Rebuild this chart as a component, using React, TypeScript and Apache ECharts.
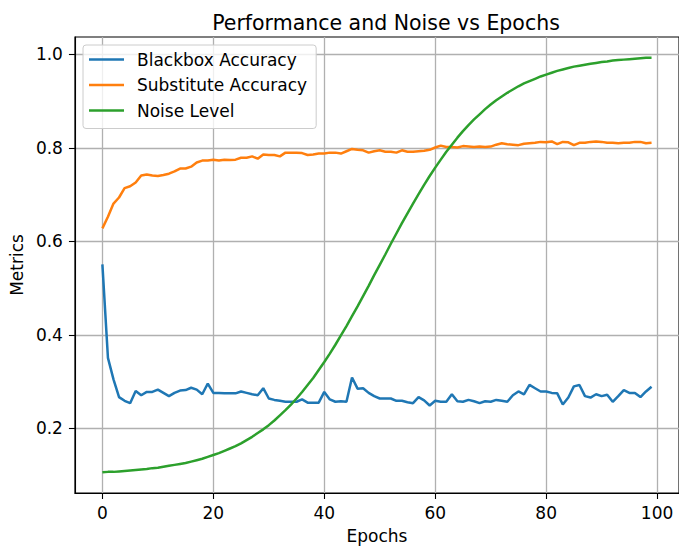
import React, { useEffect, useRef } from "react";
import * as echarts from "echarts";

const epochs: number[] = Array.from({ length: 100 }, (_, i) => i);

const blackboxAccuracy = [
  0.551, 0.351, 0.305, 0.267, 0.259, 0.254, 0.28, 0.271, 0.278, 0.278,
  0.283, 0.276, 0.269, 0.276, 0.281, 0.282, 0.287, 0.283, 0.273, 0.296,
  0.276, 0.276, 0.275, 0.275, 0.275, 0.279, 0.276, 0.273, 0.271, 0.286,
  0.264, 0.261, 0.259, 0.257, 0.257, 0.257, 0.262, 0.255, 0.255, 0.255,
  0.278, 0.262, 0.257, 0.258, 0.257, 0.309, 0.285, 0.286, 0.276, 0.269,
  0.264, 0.264, 0.264, 0.259, 0.259, 0.256, 0.254, 0.267, 0.26, 0.249,
  0.259, 0.257, 0.257, 0.273, 0.258, 0.257, 0.261, 0.258, 0.254, 0.258,
  0.257, 0.261, 0.259, 0.257, 0.271, 0.279, 0.273, 0.293, 0.286, 0.279,
  0.279, 0.276, 0.275, 0.251, 0.266, 0.29, 0.293, 0.269, 0.266, 0.273,
  0.269, 0.272, 0.257, 0.269, 0.282, 0.276, 0.276, 0.267, 0.279, 0.289,
];

const substituteAccuracy = [
  0.628, 0.653, 0.681, 0.694, 0.714, 0.718, 0.726, 0.741, 0.743, 0.741,
  0.74, 0.742, 0.745, 0.75, 0.756, 0.756, 0.76, 0.769, 0.773, 0.773,
  0.775, 0.773, 0.775, 0.774, 0.775, 0.779, 0.779, 0.782, 0.777, 0.786,
  0.785, 0.785, 0.782, 0.79, 0.79, 0.79, 0.789, 0.785, 0.786, 0.788,
  0.788, 0.79, 0.79, 0.788, 0.793, 0.798, 0.796, 0.795, 0.79, 0.793,
  0.795, 0.792, 0.792, 0.79, 0.795, 0.792, 0.792, 0.793, 0.794, 0.796,
  0.801, 0.805, 0.802, 0.802, 0.801, 0.804, 0.803, 0.802, 0.803, 0.802,
  0.803, 0.807, 0.81, 0.808, 0.807, 0.806, 0.809, 0.81, 0.811, 0.813,
  0.812, 0.814, 0.808, 0.813, 0.812, 0.806, 0.811, 0.811, 0.813, 0.814,
  0.813, 0.811, 0.811, 0.81, 0.811, 0.811, 0.813, 0.813, 0.81, 0.811,
];

const noiseLevel = [
  0.106, 0.107, 0.107, 0.108, 0.109, 0.11, 0.111, 0.112, 0.113, 0.115,
  0.116, 0.118, 0.12, 0.122, 0.124, 0.126, 0.129, 0.132, 0.135, 0.139,
  0.143, 0.147, 0.152, 0.157, 0.162, 0.168, 0.175, 0.182, 0.19, 0.198,
  0.207, 0.217, 0.228, 0.239, 0.251, 0.264, 0.278, 0.293, 0.308, 0.325,
  0.342, 0.36, 0.379, 0.399, 0.419, 0.44, 0.461, 0.483, 0.505, 0.528,
  0.55, 0.572, 0.595, 0.617, 0.639, 0.66, 0.681, 0.701, 0.721, 0.74,
  0.758, 0.775, 0.792, 0.807, 0.822, 0.836, 0.849, 0.861, 0.872, 0.883,
  0.893, 0.902, 0.91, 0.918, 0.925, 0.932, 0.938, 0.943, 0.948, 0.953,
  0.957, 0.961, 0.965, 0.968, 0.971, 0.974, 0.976, 0.978, 0.98, 0.982,
  0.984, 0.985, 0.987, 0.988, 0.989, 0.99, 0.991, 0.992, 0.993, 0.993,
];

const xTicks = [0, 20, 40, 60, 80, 100];
const yTicks = [0.2, 0.4, 0.6, 0.8, 1.0];

const seriesNames = ["Blackbox Accuracy", "Substitute Accuracy", "Noise Level"];
const seriesColors = ["#1f77b4", "#ff7f0e", "#2ca02c"];
const seriesValues = [blackboxAccuracy, substituteAccuracy, noiseLevel];

const FONT = "DejaVu Sans";
const FS = 17;

export default function App() {
  const ref = useRef<HTMLDivElement>(null);

  useEffect(() => {
    if (!ref.current) return;
    const chart = echarts.init(ref.current, null, { renderer: "svg" });
    chart.setOption({
      animation: false,
      backgroundColor: "#ffffff",
      title: {
        text: "Performance and Noise vs Epochs",
        left: 381,
        top: 7,
        textAlign: "center",
        textStyle: { fontFamily: FONT, fontSize: 20.5, fontWeight: "normal", color: "#000" },
      },
      legend: {
        orient: "vertical",
        left: 83,
        top: 45,
        data: seriesNames,
        icon: "rect",
        itemWidth: 35,
        itemHeight: 2.5,
        itemGap: 5.5,
        padding: [4.5, 9, 8, 6],
        backgroundColor: "rgba(255,255,255,0.8)",
        borderColor: "#cccccc",
        borderWidth: 1,
        borderRadius: 3,
        textStyle: {
          fontFamily: FONT,
          fontSize: FS,
          color: "#000",
          lineHeight: 20,
          padding: [0, 0, 0, 8],
        },
      },
      grid: {
        left: 74.6,
        top: 37,
        width: 613.1,
        height: 456,
        show: true,
        borderColor: "#000",
        borderWidth: 1.1,
        backgroundColor: "transparent",
        containLabel: false,
      },
      xAxis: {
        type: "value",
        min: -4.95,
        max: 103.95,
        name: "Epochs",
        nameLocation: "middle",
        nameGap: 34,
        nameTextStyle: { fontFamily: FONT, fontSize: FS, color: "#000" },
        axisLine: { show: true, onZero: false, lineStyle: { color: "#000", width: 1.1 } },
        axisTick: { show: true, length: 6, customValues: xTicks, lineStyle: { color: "#000", width: 1.1 } },
        axisLabel: {
          customValues: xTicks,
          margin: 11,
          fontFamily: FONT,
          fontSize: FS,
          color: "#000",
        },
        splitLine: { show: true, lineStyle: { color: "#b0b0b0", width: 1.3 } },
      },
      yAxis: {
        type: "value",
        min: 0.0618,
        max: 1.0374,
        name: "Metrics",
        nameLocation: "middle",
        nameGap: 48,
        nameTextStyle: { fontFamily: FONT, fontSize: FS, color: "#000" },
        axisLine: { show: true, onZero: false, lineStyle: { color: "#000", width: 1.1 } },
        axisTick: { show: true, length: 6, customValues: yTicks, lineStyle: { color: "#000", width: 1.1 } },
        axisLabel: {
          customValues: yTicks,
          margin: 12,
          fontFamily: FONT,
          fontSize: FS,
          color: "#000",
          formatter: (v: number) => v.toFixed(1),
        },
        splitLine: { show: true, lineStyle: { color: "#b0b0b0", width: 1.3 } },
      },
      series: seriesNames.map((name, si) => ({
        name,
        type: "line",
        showSymbol: false,
        symbol: "none",
        color: seriesColors[si],
        lineStyle: { color: seriesColors[si], width: 2.5 },
        data: epochs.map((e, i) => [e, seriesValues[si][i]]),
        z: 2 + si,
      })),
    });
    return () => chart.dispose();
  }, []);

  return (
    <div
      ref={ref}
      style={{ position: "absolute", left: 0, top: 0, width: 679, height: 549 }}
    />
  );
}
